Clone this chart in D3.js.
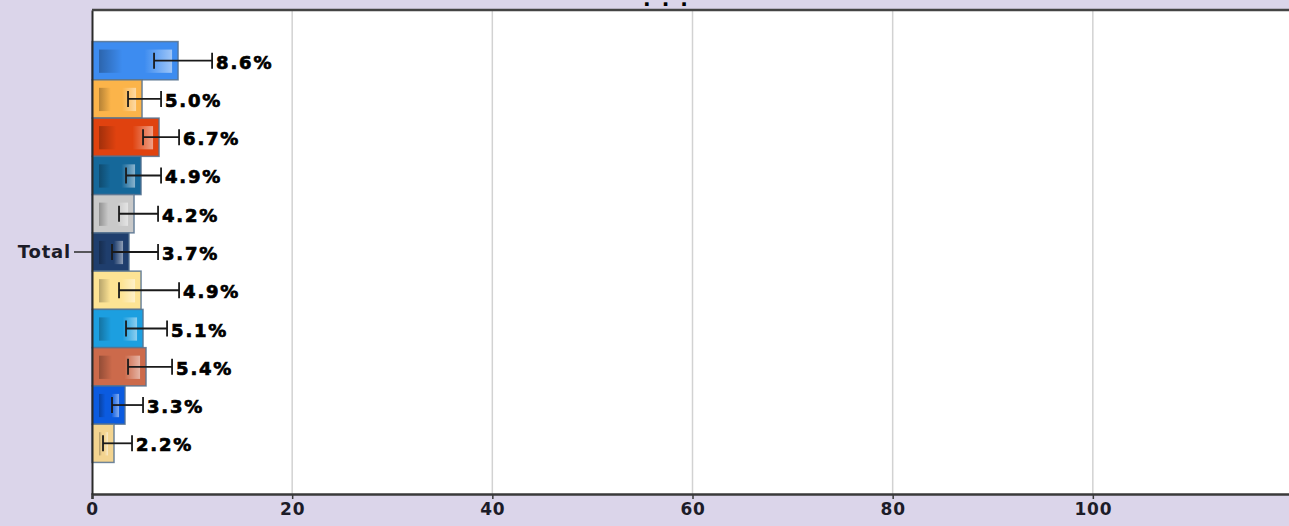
<!DOCTYPE html>
<html>
<head>
<meta charset="utf-8">
<script src="https://cdn.jsdelivr.net/npm/d3@7"></script>
<style>
  html, body { margin: 0; padding: 0; background: #dbd5ea; overflow: hidden; }
  svg { display: block; }
</style>
</head>
<body>
<div id="chart"></div>
<script>
// chart data
const categories = ['Total']
const seriesNames = ['s1', 's2', 's3', 's4', 's5', 's6', 's7', 's8', 's9', 's10', 's11']
const values = [8.6, 5.0, 6.7, 4.9, 4.2, 3.7, 4.9, 5.1, 5.4, 3.3, 2.2]
const lower = [6.2, 3.6, 5.1, 3.4, 2.7, 2.0, 2.7, 3.4, 3.6, 2.0, 1.1]
const upper = [12.0, 6.9, 8.7, 6.9, 6.6, 6.6, 8.7, 7.5, 8.0, 5.1, 4.0]
const colors = ['#3d8cf0', '#fbb44a', '#e0420f', '#15689a', '#c9c9c9', '#1f3e6d',
  '#fde394', '#1c9fe0', '#cc6a4b', '#0b5be0', '#f3d490']
const xTicks = [0, 20, 40, 60, 80, 100]
const gridTicks = [20, 40, 60, 80, 100, 120]

const width = 1289
const height = 526
const margin = { top: 10, right: -4, bottom: 32, left: 92 }
const innerW = width - margin.left - margin.right
const innerH = height - margin.top - margin.bottom

const svg = d3.select('#chart')
  .append('svg')
  .attr('width', width)
  .attr('height', height)

const defs = svg.append('defs')
const shade = defs.append('linearGradient').attr('id', 'shade')
shade.append('stop').attr('offset', '0').attr('stop-color', '#000').attr('stop-opacity', 0.28)
shade.append('stop').attr('offset', '0.32').attr('stop-color', '#000').attr('stop-opacity', 0.0)
shade.append('stop').attr('offset', '0.62').attr('stop-color', '#fff').attr('stop-opacity', 0.0)
shade.append('stop').attr('offset', '1').attr('stop-color', '#fff').attr('stop-opacity', 0.5)

// title (clipped at top in the original)
svg.append('text')
  .attr('x', 671)
  .attr('y', 6)
  .attr('text-anchor', 'middle')
  .style('font', 'bold 20px "DejaVu Sans"')
  .style('letter-spacing', '11px')
  .attr('fill', '#000')
  .text('...')

const g = svg.append('g')
  .attr('transform', `translate(${margin.left},${margin.top})`)

const x = d3.scaleLinear()
  .domain([0, 120])
  .range([0, innerW])

const y0 = d3.scaleBand()
  .domain(categories)
  .range([0, innerH])
  .paddingOuter(0.075)

const y1 = d3.scaleBand()
  .domain(seriesNames)
  .range([0, y0.bandwidth()])

// plot background
g.append('rect')
  .attr('width', innerW)
  .attr('height', innerH)
  .attr('fill', '#fff')

// grid
g.selectAll('.grid')
  .data(gridTicks)
  .join('line')
  .attr('x1', d => x(d))
  .attr('x2', d => x(d))
  .attr('y1', 0)
  .attr('y2', innerH)
  .attr('stroke', '#d2d2d2')
  .attr('stroke-width', 1.5)

const bars = g.append('g')
  .attr('transform', `translate(0,${y0('Total')})`)

const rows = bars.selectAll('g.row')
  .data(values.map((v, i) => ({ name: seriesNames[i], v, lo: lower[i], hi: upper[i], c: colors[i] })))
  .join('g')
  .attr('class', 'row')

rows.append('rect')
  .attr('x', x(0))
  .attr('y', d => y1(d.name))
  .attr('width', d => x(d.v) - x(0))
  .attr('height', y1.bandwidth())
  .attr('fill', d => d.c)
  .attr('stroke', '#56728f')
  .attr('stroke-opacity', 0.85)
  .attr('stroke-width', 1.5)

rows.append('rect')
  .attr('x', x(0) + 7)
  .attr('y', d => y1(d.name) + 8)
  .attr('width', d => Math.max(0, x(d.v) - x(0) - 13))
  .attr('height', y1.bandwidth() - 15)
  .attr('fill', 'url(#shade)')

// error bars
const cy = d => y1(d.name) + y1.bandwidth() / 2
rows.append('line')
  .attr('x1', d => x(d.lo))
  .attr('x2', d => x(d.hi))
  .attr('y1', cy)
  .attr('y2', cy)
  .attr('stroke', '#1a1a1a')
  .attr('stroke-width', 1.8)
rows.selectAll('line.cap')
  .data(d => [d.lo, d.hi].map(e => ({ e, d })))
  .join('line')
  .attr('class', 'cap')
  .attr('x1', p => x(p.e))
  .attr('x2', p => x(p.e))
  .attr('y1', p => cy(p.d) - 8)
  .attr('y2', p => cy(p.d) + 8)
  .attr('stroke', '#1a1a1a')
  .attr('stroke-width', 1.8)

rows.append('text')
  .attr('x', d => x(d.hi) + 4)
  .attr('y', d => cy(d) + 8)
  .style('font', 'bold 18px "DejaVu Sans"')
  .style('letter-spacing', '1.8px')
  .attr('fill', '#000')
  .attr('stroke', '#000')
  .attr('stroke-width', 0.7)
  .text(d => d.v.toFixed(1) + '%')

// axes
const xAxis = g.append('g')
  .attr('transform', `translate(0,${innerH})`)
  .call(d3.axisBottom(x).tickValues(xTicks).tickSize(5).tickPadding(4).tickFormat(d3.format('d')))
xAxis.select('.domain').attr('stroke', '#3a3a3a').attr('stroke-width', 2.5)
xAxis.selectAll('.tick line').attr('stroke', '#3a3a3a').attr('stroke-width', 1.5)
xAxis.selectAll('text')
  .style('font', 'bold 17px "DejaVu Sans"')
  .style('letter-spacing', '0.8px')
  .attr('fill', '#1c1c28')

const yAxis = g.append('g')
  .call(d3.axisLeft(y0).tickSize(18).tickPadding(3).tickSizeOuter(0))
yAxis.select('.domain').attr('stroke', '#2a2a2a').attr('stroke-width', 2)
yAxis.selectAll('.tick line').attr('stroke', '#2a2a2a').attr('stroke-width', 1.5)
yAxis.selectAll('text')
  .style('font', 'bold 18px "DejaVu Sans"')
  .style('letter-spacing', '0.8px')
  .attr('fill', '#1c1c28')

// top frame line
g.append('line')
  .attr('x1', 0)
  .attr('x2', innerW)
  .attr('y1', 0)
  .attr('y2', 0)
  .attr('stroke', '#444')
  .attr('stroke-width', 2.5)
</script>
</body>
</html>
